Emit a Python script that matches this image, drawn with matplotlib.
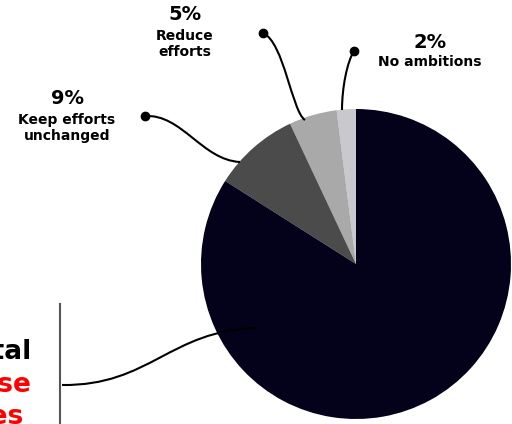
import matplotlib
matplotlib.use("Agg")
import matplotlib.pyplot as plt
import numpy as np
from matplotlib.path import Path
from matplotlib.patches import PathPatch

# shares, going counter-clockwise from 12 o'clock
labels = ["No ambitions", "Reduce\nefforts", "Keep efforts\nunchanged", "Increase efforts"]
values = [2, 5, 9, 84]
pct_text = ["2%", "5%", "9%", None]
colors = ["#c9c9cd", "#a9a9a9", "#4b4b4b", "#03021a"]

FONT = ["DejaVu Sans"]
W, H = 512, 424


def px(x, y):
    # image-style pixel coords (y down) -> axes data coords (y up)
    return x, H - y


def connector(ax, pts, dot=True):
    verts = [px(*p) for p in pts]
    codes = [Path.MOVETO, Path.CURVE4, Path.CURVE4, Path.CURVE4]
    ax.add_patch(PathPatch(Path(verts, codes), fc="none", ec="black", lw=1.5, zorder=3))
    if dot:
        ax.plot(*verts[0], "o", color="black", ms=6, zorder=4)


def main():
    fig = plt.figure(figsize=(W / 100, H / 100), dpi=100)
    ax = fig.add_axes([0, 0, 1, 1])

    cx, cy = px(356, 264)
    ax.pie(values, colors=colors, startangle=90, counterclock=True,
           center=(cx, cy), radius=155, frame=True,
           wedgeprops=dict(linewidth=0))
    ax.set_xlim(0, W)
    ax.set_ylim(0, H)
    ax.set_aspect("equal")
    ax.axis("off")

    # curved leader lines: dot end first, then two control points, then slice end
    connector(ax, [(354, 51), (347, 62), (342, 88), (342, 110)])
    connector(ax, [(263, 33), (284, 42), (292, 112), (305, 120)])
    connector(ax, [(145, 116), (182, 114), (202, 160), (240, 162)])
    connector(ax, [(62, 385), (150, 386), (170, 330), (257, 328)], dot=False)

    # slice labels
    spots = [(430, 42, 62), (185, 14, 44), (67, 98, 128)]
    for (x, y_pct, y_lab), p, lab in zip(spots, pct_text, labels):
        ax.text(*px(x, y_pct), p, ha="center", va="center", fontsize=14,
                fontweight="bold", family=FONT)
        ax.text(*px(x, y_lab), lab, ha="center", va="center", fontsize=10,
                fontweight="bold", family=FONT, linespacing=1.15)

    # divider and the big-slice caption running off the left edge
    ax.plot(*zip(px(60, 304), px(60, 424)), color="#555555", lw=1.5)
    ax.text(*px(32, 352), "Total", ha="right", va="center", fontsize=19,
            fontweight="bold", family=FONT, color="black")
    ax.text(*px(32, 385), "increase", ha="right", va="center", fontsize=19,
            fontweight="bold", family=FONT, color="#ff0000")
    ax.text(*px(24, 417), "initiatives", ha="right", va="center", fontsize=19,
            fontweight="bold", family=FONT, color="#ff0000")

    fig.savefig("out.png", dpi=100, facecolor="white")


if __name__ == "__main__":
    main()
